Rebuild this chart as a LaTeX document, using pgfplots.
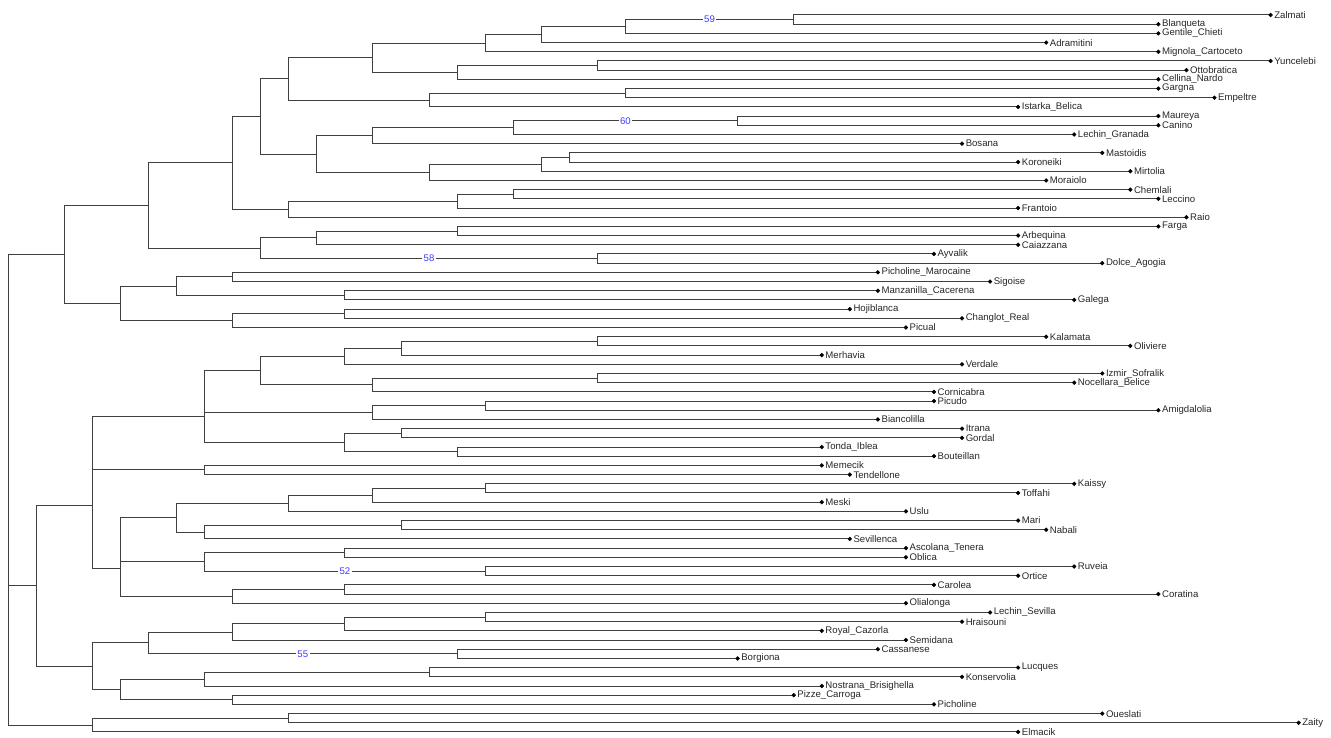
\documentclass[border=0pt]{standalone}
\usepackage{pgfplots}
\pgfplotsset{compat=1.18}
\usepackage{fontspec}
\setmainfont{Liberation Sans}
\definecolor{branch}{RGB}{64,64,64}
\definecolor{boot}{RGB}{60,60,255}
\begin{document}
\begin{tikzpicture}
\begin{axis}[
  scale only axis, width=998.25pt, height=552.75pt,
  xmin=-0.2959, xmax=47.155, ymin=-0.632, ymax=79.55, y dir=reverse,
  hide axis, clip=false, unbounded coords=jump,
]
\path (rel axis cs:0,0) rectangle (rel axis cs:1,1);
% tree branches: x = depth level, y = leaf row
\addplot[branch, line width=0.75pt, mark=none] coordinates {
(45,1) (28,1) (28,2) (41,2) (nan,nan)
(28,1.5) (22,1.5) (22,3) (41,3) (nan,nan)
(22,2.25) (19,2.25) (19,4) (37,4) (nan,nan)
(19,3.125) (17,3.125) (17,5) (41,5) (nan,nan)
(45,6) (21,6) (21,7) (42,7) (nan,nan)
(21,6.5) (16,6.5) (16,8) (41,8) (nan,nan)
(17,4.0625) (13,4.0625) (13,7.25) (16,7.25) (nan,nan)
(41,9) (22,9) (22,10) (43,10) (nan,nan)
(22,9.5) (15,9.5) (15,11) (36,11) (nan,nan)
(13,5.65625) (10,5.65625) (10,10.25) (15,10.25) (nan,nan)
(41,12) (26,12) (26,13) (41,13) (nan,nan)
(26,12.5) (18,12.5) (18,14) (38,14) (nan,nan)
(18,13.25) (13,13.25) (13,15) (34,15) (nan,nan)
(39,16) (20,16) (20,17) (36,17) (nan,nan)
(20,16.5) (19,16.5) (19,18) (40,18) (nan,nan)
(19,17.25) (15,17.25) (15,19) (37,19) (nan,nan)
(13,14.125) (11,14.125) (11,18.125) (15,18.125) (nan,nan)
(10,7.953125) (9,7.953125) (9,16.125) (11,16.125) (nan,nan)
(40,20) (18,20) (18,21) (41,21) (nan,nan)
(18,20.5) (16,20.5) (16,22) (36,22) (nan,nan)
(16,21.25) (10,21.25) (10,23) (42,23) (nan,nan)
(9,12.0390625) (8,12.0390625) (8,22.125) (10,22.125) (nan,nan)
(41,24) (16,24) (16,25) (36,25) (nan,nan)
(16,24.5) (11,24.5) (11,26) (36,26) (nan,nan)
(33,27) (21,27) (21,28) (39,28) (nan,nan)
(11,25.25) (9,25.25) (9,27.5) (21,27.5) (nan,nan)
(8,17.08203) (5,17.08203) (5,26.375) (9,26.375) (nan,nan)
(31,29) (8,29) (8,30) (35,30) (nan,nan)
(31,31) (12,31) (12,32) (38,32) (nan,nan)
(8,29.5) (6,29.5) (6,31.5) (12,31.5) (nan,nan)
(30,33) (12,33) (12,34) (34,34) (nan,nan)
(12,33.5) (8,33.5) (8,35) (32,35) (nan,nan)
(6,30.5) (4,30.5) (4,34.25) (8,34.25) (nan,nan)
(5,21.72852) (2,21.72852) (2,32.375) (4,32.375) (nan,nan)
(37,36) (21,36) (21,37) (40,37) (nan,nan)
(21,36.5) (14,36.5) (14,38) (29,38) (nan,nan)
(14,37.25) (12,37.25) (12,39) (34,39) (nan,nan)
(39,40) (21,40) (21,41) (38,41) (nan,nan)
(21,40.5) (13,40.5) (13,42) (33,42) (nan,nan)
(12,38.125) (9,38.125) (9,41.25) (13,41.25) (nan,nan)
(33,43) (17,43) (17,44) (41,44) (nan,nan)
(17,43.5) (13,43.5) (13,45) (31,45) (nan,nan)
(9,39.6875) (7,39.6875) (7,44.25) (13,44.25) (nan,nan)
(34,46) (14,46) (14,47) (34,47) (nan,nan)
(29,48) (16,48) (16,49) (33,49) (nan,nan)
(14,46.5) (12,46.5) (12,48.5) (16,48.5) (nan,nan)
(7,41.96875) (7,47.5) (12,47.5) (nan,nan)
(29,50) (7,50) (7,51) (30,51) (nan,nan)
(7,44.734375) (3,44.734375) (3,50.5) (7,50.5) (nan,nan)
(38,52) (17,52) (17,53) (36,53) (nan,nan)
(17,52.5) (13,52.5) (13,54) (29,54) (nan,nan)
(13,53.25) (10,53.25) (10,55) (32,55) (nan,nan)
(36,56) (14,56) (14,57) (37,57) (nan,nan)
(14,56.5) (7,56.5) (7,58) (30,58) (nan,nan)
(10,54.125) (6,54.125) (6,57.25) (7,57.25) (nan,nan)
(32,59) (12,59) (12,60) (32,60) (nan,nan)
(38,61) (17,61) (17,62) (36,62) (nan,nan)
(12,59.5) (7,59.5) (7,61.5) (17,61.5) (nan,nan)
(6,55.6875) (4,55.6875) (4,60.5) (7,60.5) (nan,nan)
(33,63) (12,63) (12,64) (41,64) (nan,nan)
(12,63.5) (8,63.5) (8,65) (32,65) (nan,nan)
(4,58.09375) (4,64.25) (8,64.25) (nan,nan)
(3,47.6171875) (3,61.171875) (4,61.171875) (nan,nan)
(35,66) (17,66) (17,67) (34,67) (nan,nan)
(17,66.5) (12,66.5) (12,68) (29,68) (nan,nan)
(12,67.25) (8,67.25) (8,69) (32,69) (nan,nan)
(31,70) (16,70) (16,71) (26,71) (nan,nan)
(8,68.125) (5,68.125) (5,70.5) (16,70.5) (nan,nan)
(36,72) (15,72) (15,73) (34,73) (nan,nan)
(15,72.5) (7,72.5) (7,74) (29,74) (nan,nan)
(28,75) (8,75) (8,76) (33,76) (nan,nan)
(7,73.25) (4,73.25) (4,75.5) (8,75.5) (nan,nan)
(5,69.3125) (3,69.3125) (3,74.375) (4,74.375) (nan,nan)
(3,54.39453) (1,54.39453) (1,71.84375) (3,71.84375) (nan,nan)
(39,77) (10,77) (10,78) (46,78) (nan,nan)
(10,77.5) (3,77.5) (3,79) (36,79) (nan,nan)
(2,27.05176) (0,27.05176) (0,78.25) (3,78.25) (nan,nan)
(0,63.11914) (1,63.11914)
};
% leaves
\addplot[only marks, mark=*, mark size=1.4pt, black,
  nodes near coords, point meta=explicit symbolic,
  nodes near coords align={right},
  every node near coord/.append style={font=\fontsize{7.2}{8}\selectfont, text=black!85, inner sep=0pt, xshift=2.6pt}]
  table[meta=label, row sep=\\] {
x y label \\
45 1 Zalmati \\
41 2 Blanqueta \\
41 3 Gentile\_Chieti \\
37 4 Adramitini \\
41 5 Mignola\_Cartoceto \\
45 6 Yuncelebi \\
42 7 Ottobratica \\
41 8 Cellina\_Nardo \\
41 9 Gargna \\
43 10 Empeltre \\
36 11 Istarka\_Belica \\
41 12 Maureya \\
41 13 Canino \\
38 14 Lechin\_Granada \\
34 15 Bosana \\
39 16 Mastoidis \\
36 17 Koroneiki \\
40 18 Mirtolia \\
37 19 Moraiolo \\
40 20 Chemlali \\
41 21 Leccino \\
36 22 Frantoio \\
42 23 Raio \\
41 24 Farga \\
36 25 Arbequina \\
36 26 Caiazzana \\
33 27 Ayvalik \\
39 28 Dolce\_Agogia \\
31 29 Picholine\_Marocaine \\
35 30 Sigoise \\
31 31 Manzanilla\_Cacerena \\
38 32 Galega \\
30 33 Hojiblanca \\
34 34 Changlot\_Real \\
32 35 Picual \\
37 36 Kalamata \\
40 37 Oliviere \\
29 38 Merhavia \\
34 39 Verdale \\
39 40 Izmir\_Sofralik \\
38 41 Nocellara\_Belice \\
33 42 Cornicabra \\
33 43 Picudo \\
41 44 Amigdalolia \\
31 45 Biancolilla \\
34 46 Itrana \\
34 47 Gordal \\
29 48 Tonda\_Iblea \\
33 49 Bouteillan \\
29 50 Memecik \\
30 51 Tendellone \\
38 52 Kaissy \\
36 53 Toffahi \\
29 54 Meski \\
32 55 Uslu \\
36 56 Mari \\
37 57 Nabali \\
30 58 Sevillenca \\
32 59 Ascolana\_Tenera \\
32 60 Oblica \\
38 61 Ruveia \\
36 62 Ortice \\
33 63 Carolea \\
41 64 Coratina \\
32 65 Olialonga \\
35 66 Lechin\_Sevilla \\
34 67 Hraisouni \\
29 68 Royal\_Cazorla \\
32 69 Semidana \\
31 70 Cassanese \\
26 71 Borgiona \\
36 72 Lucques \\
34 73 Konservolia \\
29 74 Nostrana\_Brisighella \\
28 75 Pizze\_Carroga \\
33 76 Picholine \\
39 77 Oueslati \\
46 78 Zaity \\
36 79 Elmacik \\
};
% bootstrap values
\addplot[draw=none, mark=none,
  nodes near coords, point meta=explicit symbolic,
  nodes near coords align={center},
  every node near coord/.append style={font=\fontsize{7.2}{8}\selectfont, text=boot, fill=white, inner sep=1pt, anchor=center}]
  table[meta=label, row sep=\\] {
x y label \\
25 1.5 59 \\
22 12.5 60 \\
15 27.5 58 \\
12 61.5 52 \\
10.5 70.5 55 \\
};
\end{axis}
\end{tikzpicture}
\end{document}
